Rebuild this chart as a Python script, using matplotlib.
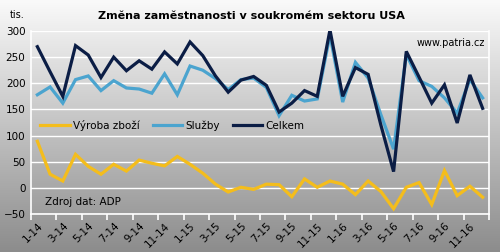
import numpy as np
import matplotlib
matplotlib.use("Agg")
import matplotlib.pyplot as plt

months = [f"{m}-{y}" for y in (14, 15, 16) for m in range(1, 13)]
vyroba = [89, 26, 13, 64, 41, 26, 45, 32, 53, 47, 42, 60, 45, 28, 7, -8, 1, -3,
          7, 6, -17, 17, 1, 13, 7, -13, 13, -7, -40, 1, 10, -32, 33, -15, 3, -18]
sluzby = [178, 193, 162, 207, 214, 186, 205, 191, 189, 181, 218, 178, 233, 225, 209, 188, 207, 210,
          192, 138, 177, 166, 170, 292, 164, 240, 210, 140, 74, 255, 205, 194, 172, 143, 207, 172]
celkem = [270, 222, 175, 272, 254, 211, 250, 224, 243, 227, 260, 237, 279, 253, 214, 183, 206, 213,
          196, 145, 162, 186, 175, 302, 175, 230, 217, 120, 31, 261, 212, 162, 197, 124, 216, 152]

plt.rcParams["font.family"] = "DejaVu Sans"
fig = plt.figure(figsize=(5.0, 2.52), dpi=100)

# background gradient
bg = fig.add_axes([0, 0, 1, 1], zorder=-1)
grad = np.linspace(0.98, 0.55, 256).reshape(-1, 1)
bg.imshow(np.dstack([grad, grad, grad]), aspect="auto", extent=[0, 1, 0, 1])
bg.axis("off")

ax = fig.add_axes([0.062, 0.151, 0.916, 0.726])
ax.patch.set_alpha(0)
x = np.arange(len(months))
ax.plot(x, vyroba, color="#f4bd1c", lw=2.3, label="Výroba zboží", solid_joinstyle="miter")
ax.plot(x, sluzby, color="#4ba4cf", lw=2.3, label="Služby", solid_joinstyle="miter")
ax.plot(x, celkem, color="#0b1d45", lw=2.3, label="Celkem", solid_joinstyle="miter")

ax.set_xlim(-0.5, len(months) - 0.5)
ax.set_ylim(-50, 300)
ax.set_yticks(np.arange(-50, 301, 50))
ax.yaxis.grid(True, color="white", lw=1.0)
ax.set_axisbelow(True)
ax.tick_params(axis="y", length=0, labelsize=7.5, pad=4)

ax.set_xticks(np.arange(-0.5, len(months), 2))
ax.set_xticklabels([])
ax.set_xticks(x[::2], minor=True)
ax.set_xticklabels(months[::2], minor=True, rotation=45, ha="right", va="top",
                   rotation_mode="anchor", fontsize=7.5)
ax.tick_params(axis="x", which="major", length=4, color="white", width=1.2)
ax.tick_params(axis="x", which="minor", length=0, pad=5)

for s in ["left", "right", "bottom"]:
    ax.spines[s].set_color("white")
    ax.spines[s].set_linewidth(1.2)
ax.spines["top"].set_visible(False)

ax.legend(loc="upper left", bbox_to_anchor=(0.0, 0.565), ncol=3, frameon=False,
          fontsize=7.5, handlelength=2.8, handletextpad=0.3, columnspacing=1.3)

fig.text(0.502, 0.935, "Změna zaměstnanosti v soukromém sektoru USA",
         ha="center", va="center", fontsize=8, fontweight="bold")
fig.text(0.02, 0.94, "tis.", ha="left", va="center", fontsize=7)
fig.text(0.97, 0.83, "www.patria.cz", ha="right", va="center", fontsize=7)
fig.text(0.09, 0.2, "Zdroj dat: ADP", ha="left", va="center", fontsize=7.5)

fig.savefig("out.png", dpi=100)
